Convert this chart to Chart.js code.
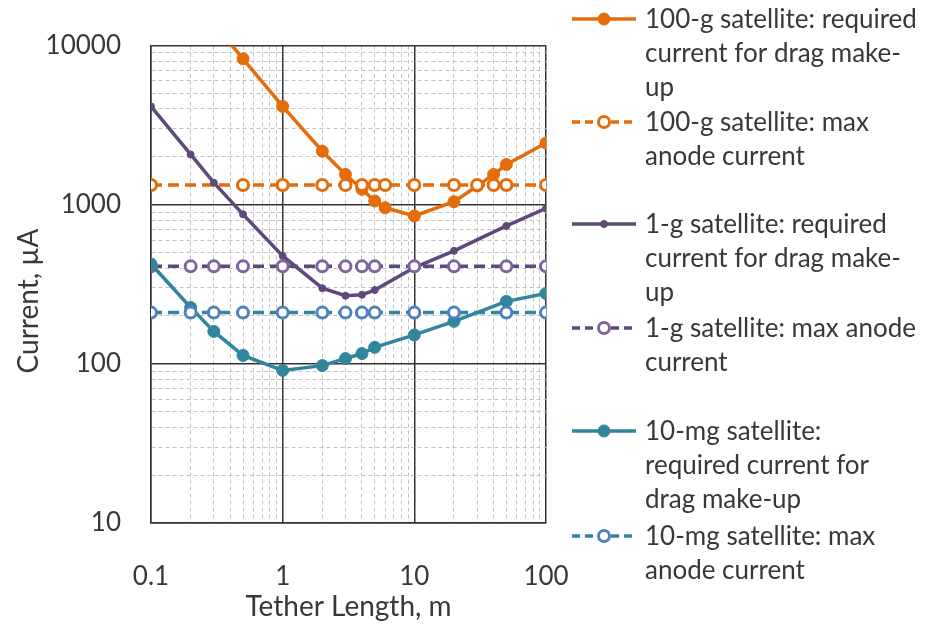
<!DOCTYPE html>
<html lang="en">
<head>
<meta charset="UTF-8">
<title>Tether current vs length</title>
<script src="https://cdn.jsdelivr.net/npm/chart.js@4.4.3/dist/chart.umd.min.js"></script>
<style>
  html, body { margin: 0; padding: 0; background: #fff; }
  #wrap { width: 925px; height: 628px; }
</style>
</head>
<body>
<div id="wrap"><canvas id="chart"></canvas></div>
<script>
// tether length, m
const lenHeavyReq = [0.3, 0.5, 1, 2, 3, 4, 5, 6, 10, 20, 30, 40, 50, 100];
const lenHeavyMax = [0.1, 0.5, 1, 2, 3, 4, 5, 6, 10, 20, 30, 40, 50, 100];
const lenLight = [0.1, 0.2, 0.3, 0.5, 1, 2, 3, 4, 5, 10, 20, 50, 100];

// current, uA
const req100g = [13800, 8260, 4150, 2170, 1550, 1250, 1055, 957, 850, 1045, 1310, 1550, 1790, 2440];
const max100g = [1330, 1330, 1330, 1330, 1330, 1330, 1330, 1330, 1330, 1330, 1330, 1330, 1330, 1330];
const req1g = [4150, 2070, 1375, 870, 477, 299, 268, 272, 291, 403, 513, 736, 949];
const max1g = [410, 410, 410, 410, 410, 410, 410, 410, 410, 410, 410, 410, 410];
const req10mg = [424, 226, 160, 113, 91, 97.5, 108, 116, 127, 152, 185, 247, 277];
const max10mg = [210, 210, 210, 210, 210, 210, 210, 210, 210, 210, 210, 210, 210];

const xDecades = [0.1, 1, 10, 100];
const yDecades = [10, 100, 1000, 10000];

const yTitle = 'Current, µA';
const xTitle = 'Tether Length, m';

const seriesNames = [
  ['100-g satellite: required', 'current for drag make-', 'up'],
  ['100-g satellite: max', 'anode current'],
  ['1-g satellite: required', 'current for drag make-', 'up'],
  ['1-g satellite: max anode', 'current'],
  ['10-mg satellite:', 'required current for', 'drag make-up'],
  ['10-mg satellite: max', 'anode current']
];

const FONT = 'Lato, "Open Sans", sans-serif';
const TEXT = '#383838';

function pts(xs, ys) {
  return xs.map((x, i) => ({ x: x, y: ys[i] }));
}

function isDecade(v) {
  const l = Math.log10(v);
  return Math.abs(l - Math.round(l)) < 1e-6;
}

// 1..9 steps inside every decade, for the grid
function decadeTicks(decades) {
  const out = [];
  for (let i = 0; i < decades.length - 1; i++) {
    for (let k = 1; k <= 9; k++) out.push({ value: k * decades[i] });
  }
  out.push({ value: decades[decades.length - 1] });
  return out;
}

function reqSet(i, xs, ys, color, r) {
  return {
    data: pts(xs, ys), borderColor: color, backgroundColor: color,
    borderWidth: 3.5, pointRadius: r, pointBorderWidth: 1,
    pointBackgroundColor: color, pointBorderColor: color, order: 5 - i
  };
}

function maxSet(i, xs, ys, color, mark) {
  return {
    data: pts(xs, ys), borderColor: color, backgroundColor: '#fff',
    borderWidth: 3.5, borderDash: [11, 6], pointRadius: 5.5, pointBorderWidth: 3,
    pointBackgroundColor: '#fff', pointBorderColor: mark, order: 5 - i
  };
}

// multi-line legend on the right, plus the rotated y title
const sideLegend = {
  id: 'sideLegend',
  afterDraw(chart) {
    const ctx = chart.ctx;
    const tops = [20, 123, 225, 329, 432, 537];
    const lh = 34;
    ctx.save();
    chart.data.datasets.forEach((ds, i) => {
      const y = tops[i];
      ctx.strokeStyle = ds.borderColor;
      ctx.lineWidth = ds.borderWidth;
      ctx.setLineDash(ds.borderDash ? [8, 5] : []);
      ctx.beginPath();
      ctx.moveTo(572, y - 1);
      ctx.lineTo(636, y - 1);
      ctx.stroke();
      ctx.setLineDash([]);
      ctx.beginPath();
      ctx.arc(604, y - 1, ds.pointRadius, 0, Math.PI * 2);
      ctx.fillStyle = ds.pointBackgroundColor;
      ctx.fill();
      ctx.lineWidth = ds.pointBorderWidth;
      ctx.strokeStyle = ds.pointBorderColor;
      ctx.stroke();

      ctx.fillStyle = TEXT;
      ctx.font = '26px ' + FONT;
      ctx.textAlign = 'left';
      ctx.textBaseline = 'middle';
      seriesNames[i].forEach((line, j) => ctx.fillText(line, 645, y + j * lh));
    });

    ctx.translate(29, 301);
    ctx.rotate(-Math.PI / 2);
    ctx.font = '28px ' + FONT;
    ctx.textAlign = 'center';
    ctx.textBaseline = 'middle';
    ctx.fillStyle = TEXT;
    ctx.fillText(yTitle, 0, 0);
    ctx.restore();
  }
};

const gridColor = c => isDecade(c.tick.value) ? '#333' : '#c4c4c4';
const gridWidth = c => isDecade(c.tick.value) ? 1.5 : 1;
const gridDash = c => (c.tick && !isDecade(c.tick.value)) ? [4, 3] : [];

new Chart(document.getElementById('chart'), {
  type: 'line',
  data: {
    datasets: [
      reqSet(0, lenHeavyReq, req100g, '#E46C0A', 6),
      maxSet(1, lenHeavyMax, max100g, '#E46C0A', '#E46C0A'),
      reqSet(2, lenLight, req1g, '#5F497A', 3.5),
      maxSet(3, lenLight, max1g, '#5F497A', '#8064A2'),
      reqSet(4, lenLight, req10mg, '#31859C', 6),
      maxSet(5, lenLight, max10mg, '#31859C', '#4F81BD')
    ]
  },
  options: {
    responsive: true,
    maintainAspectRatio: false,
    animation: false,
    layout: { padding: { top: 44, right: 379, left: 0, bottom: 0 } },
    plugins: { legend: { display: false }, tooltip: { enabled: false } },
    scales: {
      x: {
        type: 'logarithmic',
        min: 0.1, max: 100,
        afterBuildTicks: s => { s.ticks = decadeTicks(xDecades); },
        afterFit: s => { s.height = 105; },
        ticks: {
          autoSkip: false, maxRotation: 0, padding: 38,
          color: TEXT, font: { family: FONT, size: 26 },
          callback: v => isDecade(v) ? String(v) : ''
        },
        grid: { drawTicks: false, color: gridColor, lineWidth: gridWidth },
        border: { color: '#333', width: 1.5, dash: gridDash },
        title: {
          display: true, text: xTitle, color: TEXT,
          font: { family: FONT, size: 28 }, padding: { top: 0, bottom: 4 }
        }
      },
      y: {
        type: 'logarithmic',
        min: 10, max: 10000,
        afterBuildTicks: s => { s.ticks = decadeTicks(yDecades); },
        afterFit: s => { s.width = 151; },
        ticks: {
          autoSkip: false, padding: 30,
          color: TEXT, font: { family: FONT, size: 26 },
          callback: v => isDecade(v) ? String(v) : ''
        },
        grid: { drawTicks: false, color: gridColor, lineWidth: gridWidth },
        border: { color: '#333', width: 1.5, dash: gridDash }
      }
    }
  },
  plugins: [sideLegend]
});
</script>
</body>
</html>
